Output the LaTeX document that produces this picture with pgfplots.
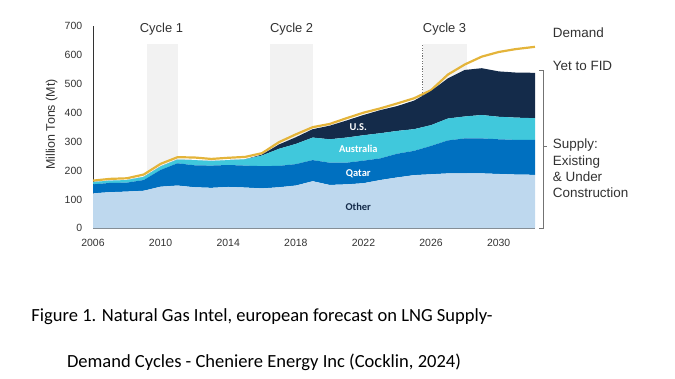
\documentclass[border=0pt]{standalone}
\usepackage{fontspec}
\setmainfont{Liberation Sans}
\newfontfamily\calibri{Carlito}
\usepackage{pgfplots}
\pgfplotsset{compat=1.18}
\usepackage{pgfplotstable}

\definecolor{cOther}{RGB}{190,216,238}
\definecolor{cQatar}{RGB}{0,112,192}
\definecolor{cAus}{RGB}{64,200,220}
\definecolor{cUS}{RGB}{20,43,74}
\definecolor{cDem}{RGB}{228,180,58}
\definecolor{cShade}{RGB}{242,242,242}
\definecolor{cTxt}{RGB}{50,50,50}

\pgfplotstableread{
year other qatar aus us demand
2006 121 31 8 0 165
2007 125 32 8 0 171
2008 127 31 9 0 173
2009 130 37 11 0 186
2010 144 58 12 0 223
2011 148 77 13 0 246
2012 142 76 18 0 245
2013 140 77 16 0 240
2014 143 76 17 0 244
2015 141 76 22 0 247
2016 138 77 37 3 260
2017 142 74 59 15 298
2018 148 74 70 23 325
2019 163 73 78 29 350
2020 150 77 81 47 361
2021 152 75 87 59 381
2022 156 78 88 70 400
2023 167 75 87 80 415
2024 176 82 79 86 432
2025 184 84 75 99 450
2026 187 98 72 118 478
2027 190 114 76 139 532
2028 190 121 76 161 567
2029 190 121 81 162 594
2030 188 120 78 157 610
2031 186 120 77 156 620
2032.15 185 121 75 157 628
}\data

\begin{document}
\begin{tikzpicture}
\path (0,0) rectangle (675bp,379bp);
\begin{axis}[
  set layers,
  at={(93bp,150.7bp)}, anchor=south west,
  scale only axis, width=442bp, height=202.3bp,
  xmin=2006, xmax=2032.15, ymin=0, ymax=700,
  axis x line*=bottom, axis y line*=left,
  x axis line style={-, draw=black!60, line width=1.2bp},
  y axis line style={-, draw=black!80, line width=0.9bp},
  xtick={2006,2010,...,2030}, ytick={0,100,...,700},
  major tick length=0,
  /pgf/number format/assume math mode=true,
  /pgf/number format/1000 sep={},
  tick label style={font=\fontsize{10.5}{12}\selectfont, text=cTxt},
  xticklabel style={anchor=center, yshift=-14.4bp},
  yticklabel style={anchor=east, inner sep=0pt, xshift=-10.6bp},
  clip=false,
  stack plots=y,
  shd/.style={stack plots=false, forget plot, on layer=axis background, fill=cShade, draw=none},
  cyc/.style={stack plots=false, forget plot, on layer=axis background, draw=black!55, dash pattern=on 1.3bp off 1.3bp, line width=0.8bp},
]
\addplot[draw=none, fill=cOther] table[x=year,y=other]{\data} \closedcycle;
\addplot[draw=none, fill=cQatar] table[x=year,y=qatar]{\data} \closedcycle;
\addplot[draw=none, fill=cAus] table[x=year,y=aus]{\data} \closedcycle;
\addplot[draw=none, fill=cUS] table[x=year,y=us]{\data} \closedcycle;
\addplot[stack plots=false, draw=cDem, line width=2.2bp, line join=round] table[x=year,y=demand]{\data};

\addplot[shd] coordinates {(2009.2,0) (2009.2,638) (2011.0,638) (2011.0,0)};
\addplot[shd] coordinates {(2016.5,0) (2016.5,638) (2019.0,638) (2019.0,0)};
\addplot[shd] coordinates {(2025.5,0) (2025.5,638) (2028.1,638) (2028.1,0)};
\addplot[cyc] coordinates {(2009.2,0) (2009.2,638)};
\addplot[cyc] coordinates {(2011.0,0) (2011.0,638)};
\addplot[cyc] coordinates {(2016.5,0) (2016.5,638)};
\addplot[cyc] coordinates {(2019.0,0) (2019.0,638)};
\addplot[cyc] coordinates {(2025.5,0) (2025.5,638)};
\addplot[cyc] coordinates {(2028.1,0) (2028.1,638)};

\node[font=\fontsize{13}{15}\selectfont, text=cTxt] at (axis cs:2010.05,690) {Cycle 1};
\node[font=\fontsize{13}{15}\selectfont, text=cTxt] at (axis cs:2017.75,690) {Cycle 2};
\node[font=\fontsize{13}{15}\selectfont, text=cTxt] at (axis cs:2026.8,690) {Cycle 3};
\end{axis}

\node[font=\calibri\bfseries\fontsize{10.5}{12}\selectfont, text=white] at (358.3bp,251.6bp) {U.S.};
\node[font=\calibri\bfseries\fontsize{10.5}{12}\selectfont, text=white] at (358.3bp,229.9bp) {Australia};
\node[font=\calibri\bfseries\fontsize{10.5}{12}\selectfont, text=white] at (358.3bp,205.6bp) {Qatar};
\node[font=\calibri\bfseries\fontsize{10.5}{12}\selectfont, text=cUS] at (358.3bp,171.8bp) {Other};

\node[rotate=90, font=\fontsize{12.5}{14}\selectfont, text=cTxt] at (51.7bp,254.5bp) {Million Tons (Mt)};

\begin{scope}[every node/.style={font=\fontsize{13.5}{15}\selectfont, text=cTxt, anchor=base west, inner sep=0pt}]
\node at (552.7bp,341bp) {Demand};
\node at (552.7bp,308.6bp) {Yet to FID};
\node at (552.7bp,230bp) {Supply:};
\node at (552.7bp,213.6bp) {Existing};
\node at (552.7bp,197.6bp) {\& Under};
\node at (552.7bp,181.6bp) {Construction};
\end{scope}

\draw[black!55, line width=0.8bp] (539bp,309bp) -- (543bp,309bp) -- (543bp,151bp) -- (539bp,151bp);
\draw[black!55, line width=0.8bp] (543bp,232.3bp) -- (547bp,232.3bp);

\node[font=\calibri\fontsize{18.6}{22}\selectfont] at (262bp,62.3bp) {Figure 1. Natural Gas Intel, european forecast on LNG Supply-};
\node[font=\calibri\fontsize{18.6}{22}\selectfont] at (264bp,16.3bp) {Demand Cycles - Cheniere Energy Inc (Cocklin, 2024)};
\end{tikzpicture}
\end{document}
